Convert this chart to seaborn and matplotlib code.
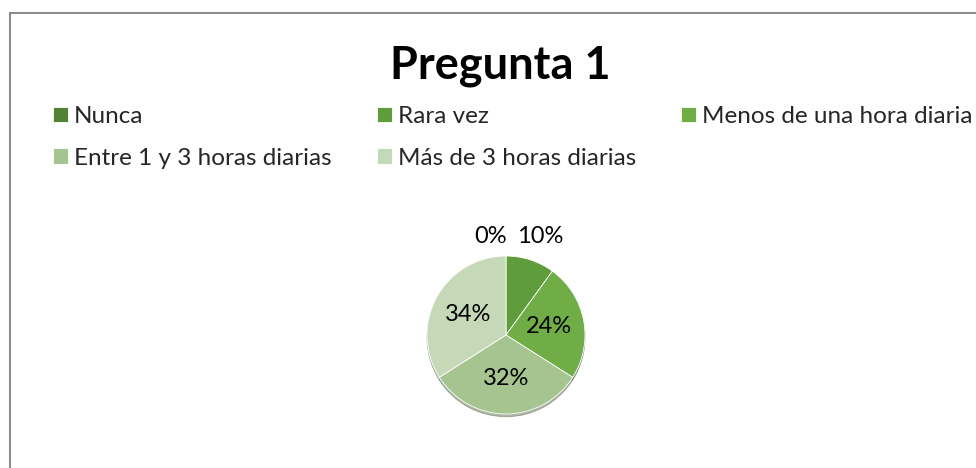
import seaborn as sns
import matplotlib.pyplot as plt
from matplotlib.patches import Rectangle

categorias = ["Nunca", "Rara vez", "Menos de una hora diaria",
              "Entre 1 y 3 horas diarias", "Más de 3 horas diarias"]
porcentajes = [0, 10, 24, 32, 34]
colores = ["#548235", "#5e9c3c", "#70ad47", "#a5c490", "#c5d9b8"]
titulo = "Pregunta 1"

sns.set_theme(style="white")
plt.rcParams["font.family"] = ["Lato", "DejaVu Sans"]

W, H = 976, 468
fig = plt.figure(figsize=(W / 100, H / 100), dpi=100)
fig.patch.set_facecolor("white")

# marco del gráfico (sale por la derecha y por abajo)
fig.add_artist(Rectangle((10 / W, -0.1), 1.1, 1 - 13.5 / H + 0.1,
                         transform=fig.transFigure, fill=False,
                         edgecolor="#8c8c8c", lw=1.5))

fig.text(500 / W, 1 - 66 / H, titulo, ha="center", va="center",
         fontsize=32.5, fontweight="bold", color="black")

# pastel: centro (506, 335) px, radio 79 px
cx, cy, r = 506, 335, 79
s = 2 * r * 1.5
ax = fig.add_axes([(cx - s / 2) / W, 1 - (cy + s / 2) / H, s / W, s / H])
wedges, texts, autotexts = ax.pie(
    porcentajes, colors=colores, startangle=90, counterclock=False,
    autopct="%1.0f%%", pctdistance=0.55,
    wedgeprops=dict(edgecolor="white", linewidth=0.6),
    textprops=dict(fontsize=17, color="black"),
    shadow=dict(ox=0.0, oy=-0.025, shade=0.45))
ax.set_xlim(-1.5, 1.5)
ax.set_ylim(-1.5, 1.5)
ax.set_aspect("equal")
ax.axis("off")

# etiquetas pequeñas fuera del pastel
autotexts[0].set_position((-0.2, 1.25))
autotexts[1].set_position((0.43, 1.25))

# leyenda por filas: matplotlib llena por columnas, así que se reordena
orden = [0, 3, 1, 4, 2]
leg = fig.legend([wedges[i] for i in orden], [categorias[i] for i in orden],
                 ncol=3, loc="upper left",
                 bbox_to_anchor=(53 / W, 1 - 106 / H), frameon=False,
                 fontsize=17.5, handlelength=0.62, handleheight=0.62,
                 handletextpad=0.25, columnspacing=1.85, labelspacing=0.85,
                 borderpad=0, borderaxespad=0)

fig.savefig("out.png", dpi=100)
